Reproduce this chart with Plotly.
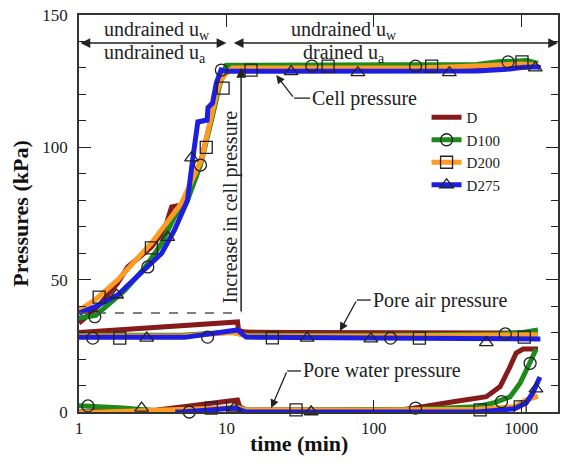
import numpy as np
import plotly.graph_objects as go

# ---- measured pressures (time in min, pressure in kPa) ----
# series D
D_cell_t = [1.0, 1.3, 1.83, 2.14, 3.1, 3.8, 4.25, 4.97, 5.8, 6.8, 7.9, 8.7, 9.4, 10.1, 11, 20, 50, 100, 200, 500, 800, 1000, 1300]
D_cell_p = [33.6, 39, 48.7, 54.8, 62.3, 68.8, 77.5, 78.2, 85, 96, 111, 121, 126.5, 129, 129.5, 129.5, 129.6, 129.7, 129.8, 130, 130.5, 130.8, 130.8]
D_air_t = [1.0, 11.9, 12.1, 13.5, 30, 100, 300, 1000, 1300]
D_air_p = [30.0, 34.0, 30.8, 30.2, 30.0, 29.8, 29.8, 29.8, 29.8]
D_water_t = [1.0, 3.4, 11.9, 12.3, 13.6, 50, 100, 150, 186, 242, 347, 580, 720, 840, 925, 1030, 1300]
D_water_p = [0.0, 0.8, 4.5, 2.0, 0.8, 0.6, 0.6, 0.8, 1.4, 2.6, 3.9, 5.8, 9.6, 17.1, 22.3, 23.8, 23.8]

# series D100
D100_cell_t = [1.0, 1.3, 2.05, 2.79, 3.64, 4.45, 5.45, 6.67, 7.9, 8.7, 9.3, 10, 20, 50, 100, 200, 500, 700, 900, 1100, 1300]
D100_cell_p = [35.5, 36.5, 46, 54.4, 63.8, 73.7, 80, 93.3, 110, 120, 127, 131, 131, 131, 131, 131, 131.3, 132.3, 132.8, 132.8, 131.7]
D100_air_t = [1.0, 5.0, 11.0, 12.5, 13.5, 100, 500, 700, 1000, 1300]
D100_air_p = [29.0, 29.0, 30.2, 29.5, 29.0, 29.0, 29.1, 29.5, 30.0, 31.0]
D100_water_t = [1.0, 1.5, 2.0, 3.26, 5.0, 10, 11.5, 13.5, 50, 200, 500, 647, 840, 985, 1110, 1200, 1265]
D100_water_p = [2.4, 2.0, 1.5, 0.5, 0.6, 1.5, 2.0, 0.6, 0.6, 1.0, 2.0, 3.4, 5.7, 11, 17, 20.8, 23.8]

# series D200
D200_cell_t = [1.0, 1.28, 1.83, 3.1, 4.97, 6.77, 7.9, 8.7, 9.4, 10.1, 11, 20, 50, 100, 200, 400, 700, 1000, 1300]
D200_cell_p = [38.5, 42.3, 49.9, 63.8, 79, 95.2, 111.5, 121.6, 126.5, 128, 130, 130, 130, 130, 130, 130.5, 131, 131.5, 131]
D200_air_t = [1.0, 5.0, 11.0, 12.5, 14, 100, 1000, 1300]
D200_air_p = [28.7, 28.7, 30.0, 29.2, 28.7, 28.7, 29.2, 29.2]
D200_water_t = [1.0, 1.5, 2.5, 5.0, 10, 11.5, 13.5, 100, 500, 900, 1080, 1300]
D200_water_p = [-0.3, 0.0, 0.5, 0.8, 1.5, 2.0, 0.8, 0.8, 1.0, 2.0, 4.5, 6.0]

# series D275
D275_cell_t = [1.0, 1.28, 1.83, 2.67, 3.64, 4.45, 5.45, 5.9, 6.4, 7.4, 7.5, 8.05, 8.55, 9.2, 10, 20, 50, 100, 200, 500, 800, 1000, 1300, 1350]
D275_cell_p = [37.3, 39.7, 44.2, 52.9, 60, 68.8, 80, 95.2, 109.6, 110.3, 115, 116.7, 124.3, 129.2, 128.7, 128.7, 128.7, 128.7, 128.7, 128.8, 129.5, 130.2, 130.4, 130]
D275_air_t = [1.0, 5.2, 11.9, 13.6, 100, 500, 1000, 1350]
D275_air_p = [28.2, 28.2, 31.0, 28.3, 28.0, 27.8, 27.6, 27.6]
D275_water_t = [4.5, 5.0, 11.5, 13.6, 100, 500, 900, 1080, 1200, 1340]
D275_water_p = [0.0, 0.0, 1.5, 0.0, 0.0, 0.0, 1.2, 3.4, 7.2, 13.2]

# symbol points
D100_mark_t = [1.28, 2.93, 6.67, 9.25, 38, 192, 815, 1.24, 7.45, 130, 780, 1.15, 5.6, 192, 735, 1150]
D100_mark_p = [36, 54.8, 93.3, 129.2, 130.7, 130.7, 132.3, 27.9, 28.3, 27.9, 29.5, 2.3, 0, 1.5, 3.9, 18.4]
D200_mark_t = [1.37, 3.1, 7.3, 9.5, 14.7, 49, 247, 1013, 1.89, 20.5, 204, 1050, 1.45, 7.9, 29.7, 527, 985]
D200_mark_p = [43.4, 62, 100, 122.4, 129.2, 130.7, 130.7, 132.3, 27.9, 28, 27.9, 28.3, -0.4, 1.5, 0.8, 0.8, 1.9]
D275_mark_t = [1.8, 4.0, 5.8, 27.5, 78, 326, 1248, 2.88, 35.3, 95.5, 580, 2.66, 11.3, 37.6, 1260]
D275_mark_p = [44.2, 66, 96, 128.6, 128.2, 128.2, 130, 27.9, 27.9, 27.6, 26.2, 1.5, 1.5, 0.1, 8.7]

series_names = ["D", "D100", "D200", "D275"]
series_colors = ["#861b1b", "#1b8c1b", "#ff9a22", "#1e1ee3"]
series_symbols = [None, "circle-open", "square-open", "triangle-up-open"]

curves = {
    "D": [(D_cell_t, D_cell_p), (D_air_t, D_air_p), (D_water_t, D_water_p)],
    "D100": [(D100_cell_t, D100_cell_p), (D100_air_t, D100_air_p), (D100_water_t, D100_water_p)],
    "D200": [(D200_cell_t, D200_cell_p), (D200_air_t, D200_air_p), (D200_water_t, D200_water_p)],
    "D275": [(D275_cell_t, D275_cell_p), (D275_air_t, D275_air_p), (D275_water_t, D275_water_p)],
}
marks = {
    "D100": (D100_mark_t, D100_mark_p),
    "D200": (D200_mark_t, D200_mark_p),
    "D275": (D275_mark_t, D275_mark_p),
}

FONT = "Liberation Serif"
INK = "#222222"
LW = 5

fig = go.Figure()

for name, color in zip(series_names, series_colors):
    for t, p in curves[name]:
        fig.add_trace(go.Scatter(x=t, y=p, mode="lines", line=dict(color=color, width=LW),
                                 legendgroup=name, showlegend=False, hoverinfo="skip"))

for name, sym in zip(series_names, series_symbols):
    if sym is None:
        continue
    t, p = marks[name]
    fig.add_trace(go.Scatter(x=t, y=p, mode="markers", cliponaxis=False,
                             marker=dict(symbol=sym, size=12, color=INK, line=dict(width=1.3, color=INK)),
                             legendgroup=name, showlegend=False, hoverinfo="skip"))

# legend entries
for name, color, sym in zip(series_names, series_colors, series_symbols):
    fig.add_trace(go.Scatter(x=[None], y=[None], name=name,
                             mode="lines+markers" if sym else "lines",
                             line=dict(color=color, width=LW),
                             marker=dict(symbol=sym or "circle", size=12, color=INK,
                                         line=dict(width=1.3, color=INK)),
                             legendgroup=name))

X0, X1 = 79, 560  # plot area pixels, used for paper-referenced shapes


def px2paper(px):
    return (px - X0) / (X1 - X0)


L10 = np.log10
ann = []
shapes = []
txt = dict(family=FONT, size=20, color=INK)

# phase arrows along the top
y_arrow = 139.4
ann.append(dict(x=1, y=y_arrow, ax=0, ay=y_arrow, xref="x", yref="y", axref="x", ayref="y",
                text="", showarrow=True, arrowside="end+start", arrowhead=2, arrowsize=1.3,
                arrowwidth=1.5, arrowcolor=INK))
ann.append(dict(x=3.25, y=y_arrow, ax=1.04, ay=y_arrow, xref="x", yref="y", axref="x", ayref="y",
                text="", showarrow=True, arrowside="end+start", arrowhead=2, arrowsize=1.3,
                arrowwidth=1.5, arrowcolor=INK))
ann.append(dict(x=0.527, y=144.3, xref="x", yref="y", text="undrained u<sub>w</sub>",
                showarrow=False, font=txt))
ann.append(dict(x=0.514, y=135.4, xref="x", yref="y", text="undrained u<sub>a</sub>",
                showarrow=False, font=txt))
ann.append(dict(x=1.80, y=144.3, xref="x", yref="y", text="undrained u<sub>w</sub>",
                showarrow=False, font=txt))
ann.append(dict(x=1.80, y=135.4, xref="x", yref="y", text="drained u<sub>a</sub>",
                showarrow=False, font=txt))

# increase in cell pressure
x_inc = 1.10
ann.append(dict(x=x_inc, y=130, ax=x_inc, ay=37.4, xref="x", yref="y", axref="x", ayref="y",
                text="", showarrow=True, arrowhead=2, arrowsize=1.3, arrowwidth=1.5, arrowcolor=INK))
shapes.append(dict(type="line", xref="paper", yref="y", x0=0, x1=px2paper(242), y0=37.4, y1=37.4,
                   line=dict(color="#555555", width=1.5, dash="dash")))
ann.append(dict(x=1.027, y=77.4, xref="x", yref="y", text="Increase in cell pressure",
                textangle=-90, showarrow=False, font=txt))

# curve labels with bent leaders
labels = [
    ("Cell pressure", (1.338, 127.3), (1.459, 118.6), 295, 311),
    ("Pore air pressure", (1.770, 30.6), (1.885, 42.3), 358, 372),
    ("Pore water pressure", (1.304, 1.5), (1.412, 15.5), 288, 302),
]
for text, tip, elbow, px_a, px_b in labels:
    ann.append(dict(x=tip[0], y=tip[1], ax=elbow[0], ay=elbow[1], xref="x", yref="y",
                    axref="x", ayref="y", text="", showarrow=True, arrowhead=2, arrowsize=1.3,
                    arrowwidth=1.3, arrowcolor=INK))
    shapes.append(dict(type="line", xref="paper", yref="y", x0=px2paper(px_a), x1=px2paper(px_b),
                       y0=elbow[1], y1=elbow[1], line=dict(color=INK, width=1.3)))
    ann.append(dict(x=px2paper(px_b), y=elbow[1], xref="paper", yref="y", text=text,
                    xanchor="left", showarrow=False, font=txt))

# x-axis title
ann.append(dict(x=px2paper(300), y=-0.116, xref="paper", yref="paper", text="time (min)",
                showarrow=False, font=dict(family=FONT, size=22, color="#111111", weight="bold")))

fig.update_layout(
    width=566, height=473,
    margin=dict(l=79, r=6, t=15, b=61),
    paper_bgcolor="white", plot_bgcolor="white",
    font=dict(family=FONT, color=INK),
    annotations=ann, shapes=shapes,
    showlegend=True,
    legend=dict(x=px2paper(428), y=(412 - 101) / 397, xanchor="left", yanchor="top",
                bgcolor="rgba(0,0,0,0)", font=dict(family=FONT, size=15, color=INK),
                tracegroupgap=0),
    xaxis=dict(type="log", range=[0, 3.25], tickvals=[1, 10, 100, 1000],
               ticktext=["1", "10", "100", "1000"], ticks="inside", ticklen=12, tickwidth=1.3,
               tickcolor=INK, showline=True, linecolor="#333333", linewidth=1.5, mirror="ticks",
               showgrid=False, zeroline=False, tickfont=dict(family=FONT, size=17, color=INK)),
    yaxis=dict(range=[0, 150], tickvals=[0, 50, 100, 150], ticks="inside", ticklen=12,
               tickwidth=1.3, tickcolor=INK, showline=True, linecolor="#333333", linewidth=1.5,
               mirror="ticks", showgrid=False, zeroline=False,
               minor=dict(dtick=10, ticks="inside", ticklen=7, tickwidth=1.3, tickcolor=INK),
               tickfont=dict(family=FONT, size=17, color=INK), ticklabelstandoff=6,
               title=dict(text="Pressures (kPa)", standoff=8,
                          font=dict(family=FONT, size=22, color="#111111", weight="bold"))),
)

fig.write_html("out.html")
